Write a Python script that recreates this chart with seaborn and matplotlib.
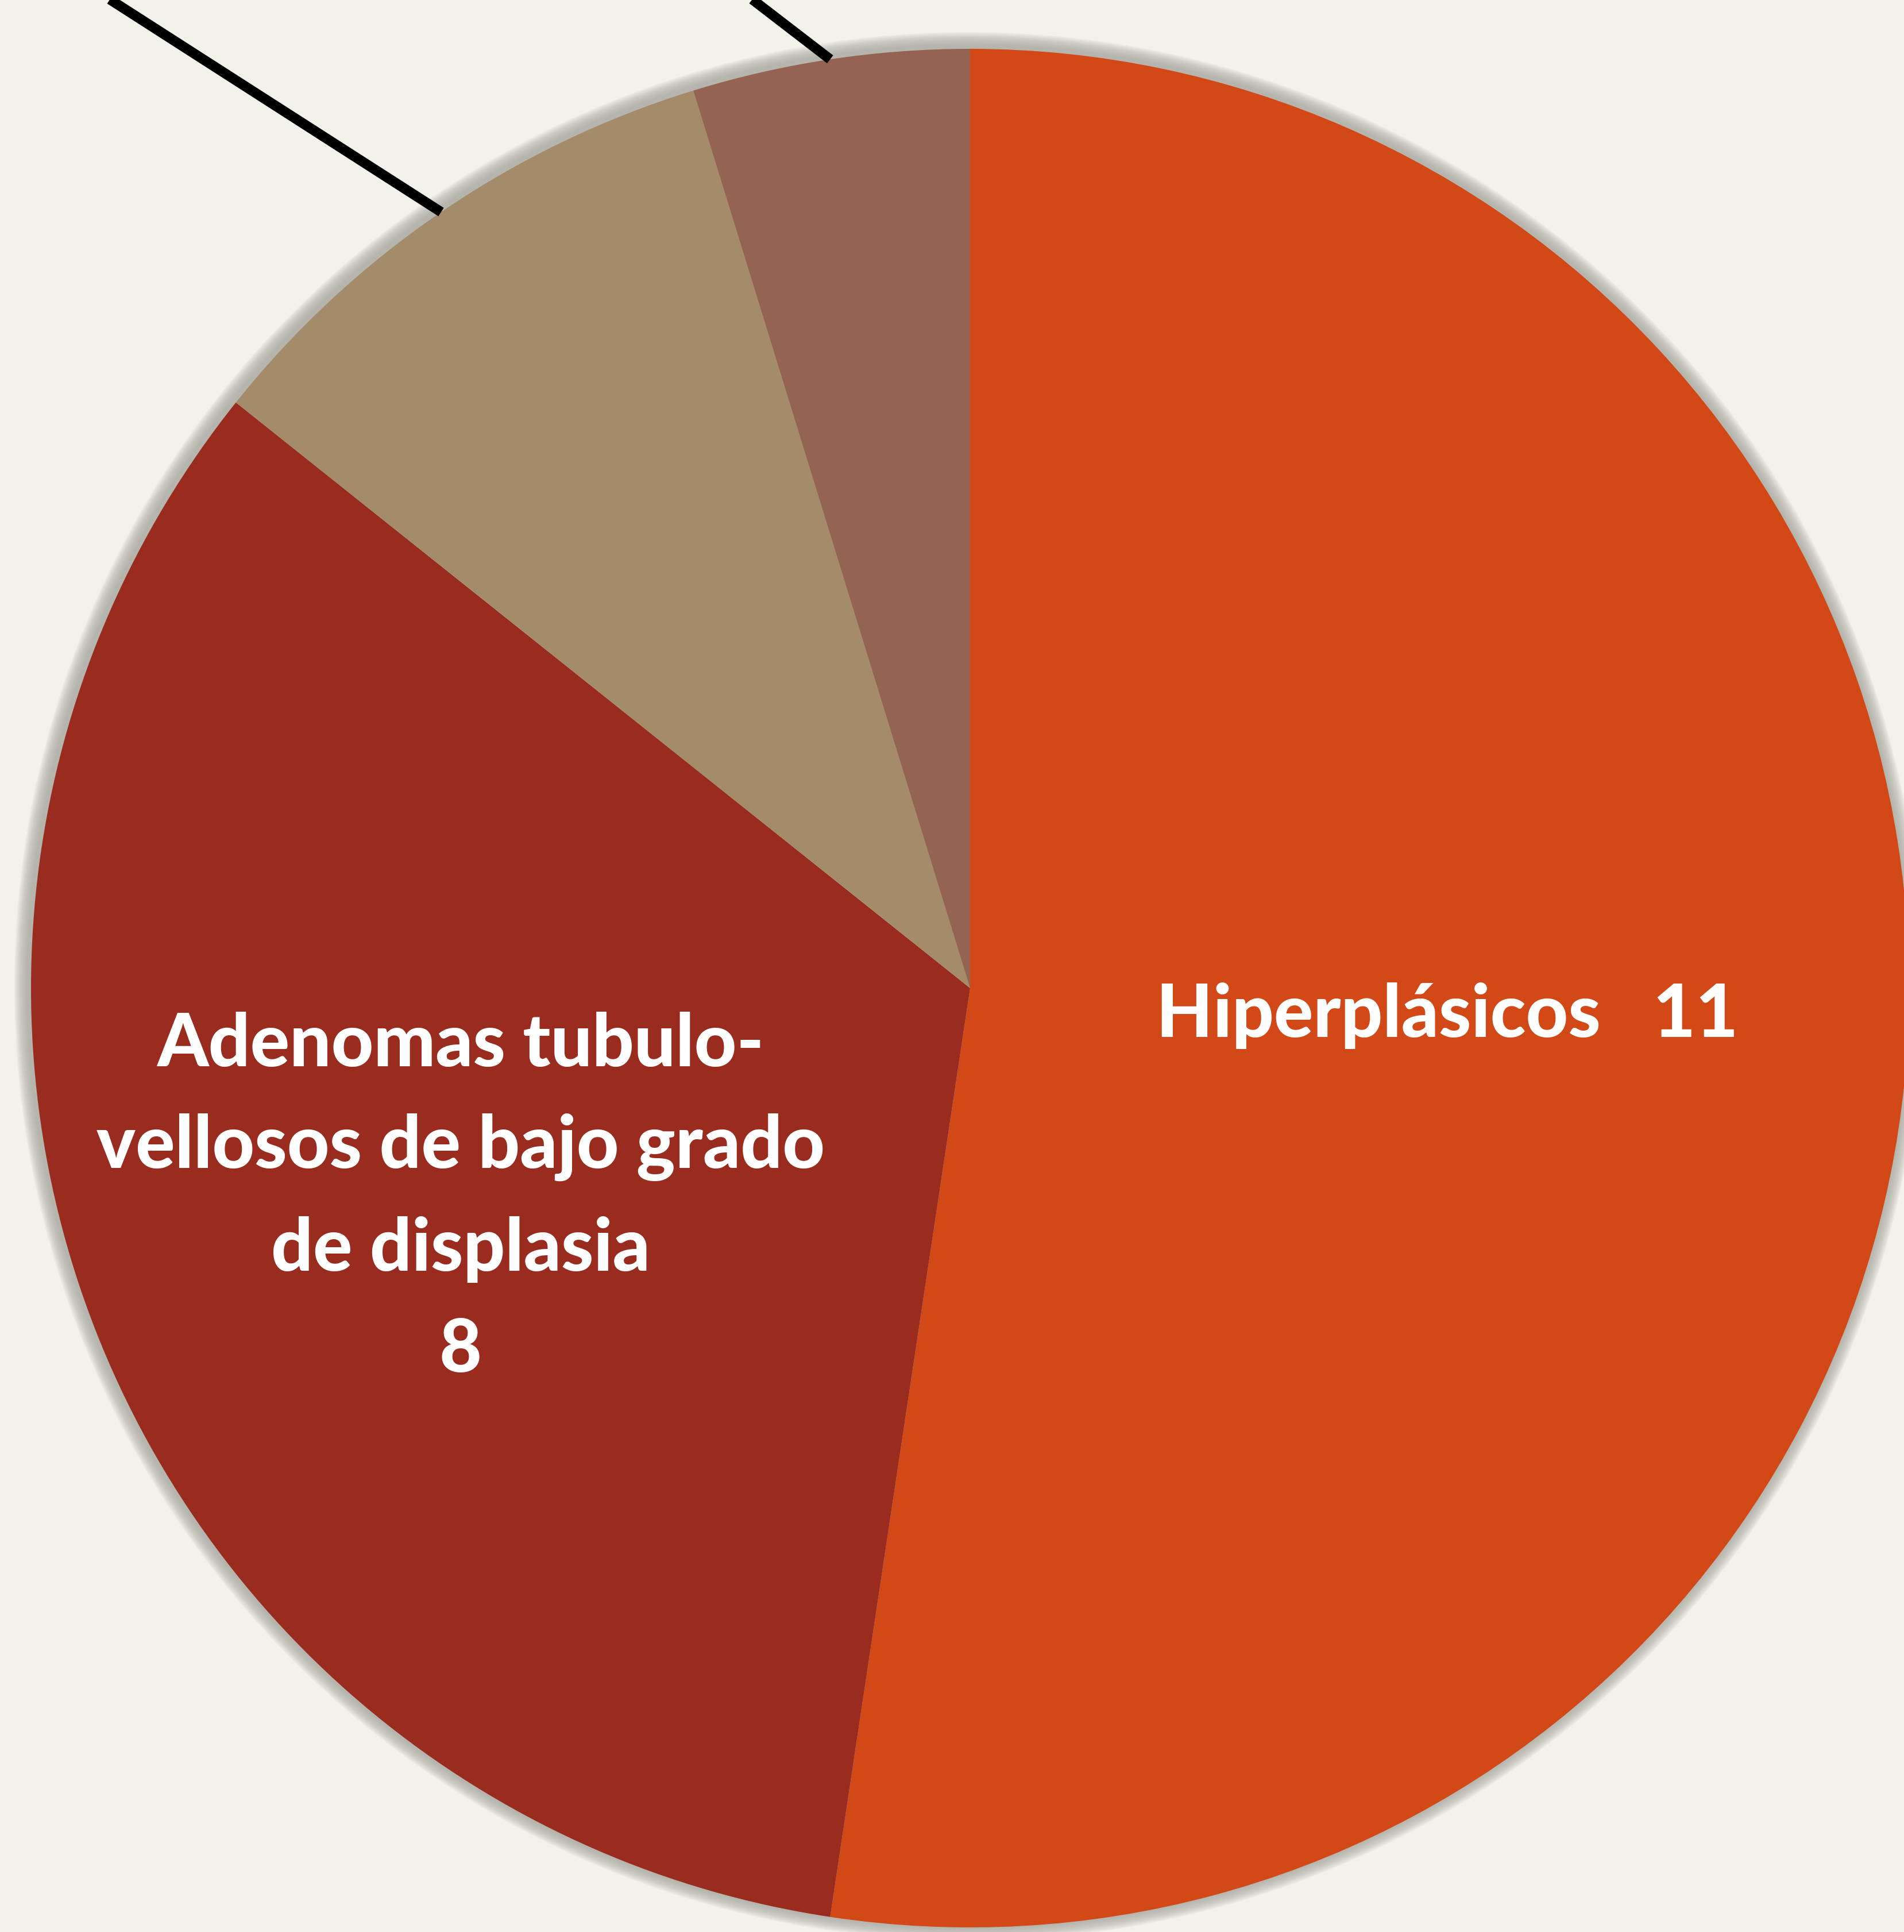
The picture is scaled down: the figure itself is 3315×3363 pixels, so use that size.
import numpy as np
import matplotlib
matplotlib.use("Agg")
import matplotlib.pyplot as plt
import seaborn as sns

# ---- data ----
categories = ["Hiperplásicos", "Adenomas tubulo-vellosos de bajo grado de displasia", "Otros A", "Otros B"]
counts = [11, 7, 2, 1]
label_hiper = "Hiperplásicos   11"
label_adenoma = "Adenomas tubulo-\nvellosos de bajo grado\nde displasia\n8"
slice_colors = ["#D24817", "#9A2B1F", "#A48C6A", "#946352"]

BG = "#F2F2EA"
sns.set_style("white")
plt.rcParams["font.family"] = ["Lato", "DejaVu Sans"]

W, H = 3315, 3363
fig = plt.figure(figsize=(W / 100, H / 100), dpi=100, facecolor=BG)
ax = fig.add_axes([0, 0, 1, 1])
ax.set_facecolor(BG)

cx, cy = 1689, H - 1720
R = 1635

# soft shadow
for i in range(12):
    r = R + 26 - i * 2.0
    ax.add_patch(plt.Circle((cx - 3, cy + 3), r, color="#a8a8a0", alpha=0.12, lw=0, zorder=1))

palette = sns.color_palette(slice_colors)
wedges, _ = ax.pie(counts, colors=palette, startangle=90, counterclock=False,
                   center=(cx, cy), radius=R, wedgeprops=dict(linewidth=0))
for w in wedges:
    w.set_zorder(2)

# leader lines from the small slices toward labels outside the view
dirs = {2: (-575, 369), 3: (-130, 100)}
for idx, (dx, dy) in dirs.items():
    w = wedges[idx]
    mid = np.deg2rad((w.theta1 + w.theta2) / 2)
    x0, y0 = cx + R * np.cos(mid), cy + R * np.sin(mid)
    t = (H + 60 - y0) / dy
    ax.plot([x0, x0 + dx * t], [y0, y0 + dy * t], color="black", lw=12.5,
            solid_capstyle="butt", zorder=3)

ax.text(2520, H - 1768, label_hiper, ha="center", va="center", color="white",
        fontsize=92, fontweight="black", zorder=4)
ax.text(802, H - 2085, label_adenoma, ha="center", va="center", color="white",
        fontsize=92, fontweight="black", linespacing=1.64, multialignment="center", zorder=4)

ax.set_xlim(0, W)
ax.set_ylim(0, H)
ax.set_aspect("equal")
ax.axis("off")
fig.savefig("out.png", dpi=100, facecolor=BG)
